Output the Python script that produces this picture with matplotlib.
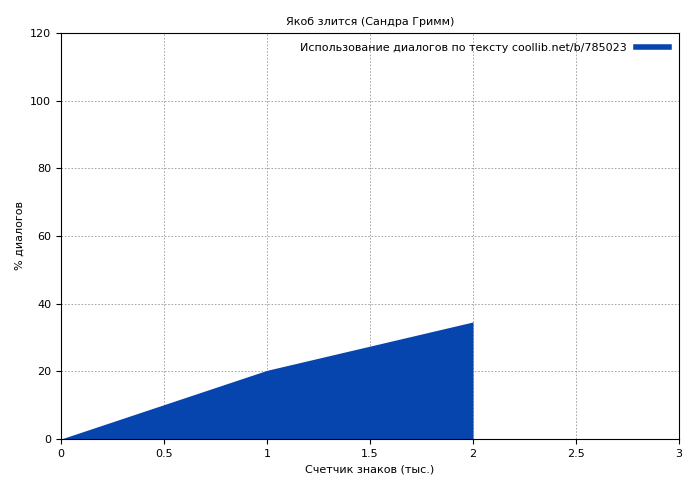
import matplotlib
matplotlib.use('Agg')
import matplotlib.pyplot as plt

x = [0, 1, 2]
y = [0, 20.3, 34.6]

plt.rcParams['font.family'] = ['DejaVu Sans']
plt.rcParams['font.size'] = 8

fig = plt.figure(figsize=(7, 4.8), dpi=100)
ax = fig.add_axes([61/700, 1-439/480, 618/700, 406/480])
ax.fill_between(x, y, 0, color='#0645ad', linewidth=0)
ax.plot([], [], color='#0645ad', linewidth=4,
        label='Использование диалогов по тексту coollib.net/b/785023')

ax.set_xlim(0, 3)
ax.set_ylim(0, 120)
ax.set_xticks([0, 0.5, 1, 1.5, 2, 2.5, 3])
ax.set_xticklabels(['0', '0.5', '1', '1.5', '2', '2.5', '3'])
ax.set_yticks(range(0, 121, 20))
ax.grid(True, color='#999999', linestyle=(0, (2, 2)), linewidth=0.6)
ax.set_axisbelow(True)
ax.set_xlabel('Счетчик знаков (тыс.)')
ax.set_ylabel('% диалогов')
ax.set_title('Якоб злится (Сандра Гримм)', fontsize=8)
ax.legend(loc='upper right', frameon=False, markerfirst=False, handlelength=3)

fig.savefig('out.png', dpi=100)
